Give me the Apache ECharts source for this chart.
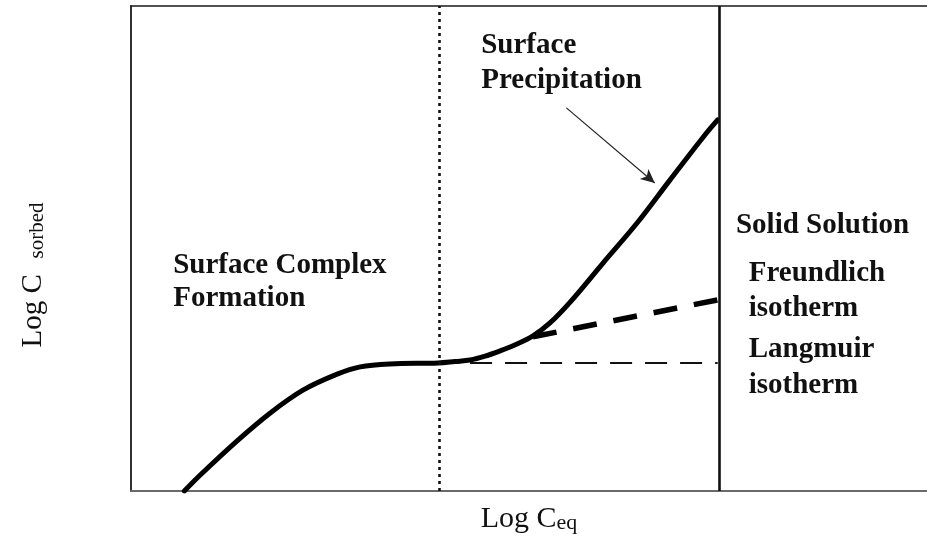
<!DOCTYPE html>
<html>
<head>
<meta charset="utf-8">
<script src="https://cdn.jsdelivr.net/npm/echarts@6/dist/echarts.min.js"></script>
<style>
  html, body { margin: 0; padding: 0; background: #fff; }
  #chart { width: 927px; height: 544px; }
</style>
</head>
<body>
<div id="chart"></div>
<script>
// Sorption isotherm (log–log): surface complexation plateau rising into surface precipitation
const sorptionX = [0.67, 0.87, 1.33, 1.75, 2.16, 2.59, 2.88, 3.25, 3.86, 4.07, 4.26, 4.45, 4.64, 4.82, 5.05, 5.26, 5.52, 5.93, 6.36, 6.77, 7.19, 7.37];
const sorptionY = [0.00, 0.33, 1.03, 1.61, 2.08, 2.41, 2.56, 2.62, 2.64, 2.67, 2.70, 2.78, 2.89, 3.01, 3.20, 3.46, 3.90, 4.70, 5.53, 6.41, 7.30, 7.65];

// Extrapolated isotherms beyond the plateau
const freundlichX = [5.05, 7.37];
const freundlichY = [3.18, 3.94];
const langmuirX = [4.26, 7.37];
const langmuirY = [2.64, 2.64];

// Regime boundaries along Log Ceq
const complexationLimit = 3.87;
const solidSolutionLimit = 7.39;

// Pointer from the "Surface Precipitation" caption to the curve
const pointerFrom = [5.47, 7.90];
const pointerTo = [6.58, 6.35];

const axisMin = 0;
const axisMax = 10;

const zip = (xs, ys) => xs.map((x, i) => [x, ys[i]]);
const SERIF = '"Liberation Serif", "Times New Roman", serif';

const chart = echarts.init(document.getElementById('chart'), null, { renderer: 'canvas' });

const hiddenAxisParts = {
  axisTick: { show: false },
  axisLabel: { show: false },
  splitLine: { show: false }
};

chart.setOption({
  animation: false,
  backgroundColor: '#fff',
  grid: { left: 131, right: 0, top: 6, bottom: 53, containLabel: false, outerBoundsMode: 'none' },
  xAxis: [
    Object.assign({
      type: 'value', min: axisMin, max: axisMax, position: 'bottom',
      axisLine: { show: true, onZero: false, lineStyle: { color: '#6a6a6a', width: 2 } },
      name: '{m|Log C}{s|eq}',
      nameLocation: 'middle',
      nameGap: 11,
      nameTextStyle: {
        rich: {
          m: { fontFamily: SERIF, fontSize: 30, color: '#111', lineHeight: 32, verticalAlign: 'bottom' },
          s: { fontFamily: SERIF, fontSize: 22, color: '#111', lineHeight: 32, verticalAlign: 'bottom' }
        }
      }
    }, hiddenAxisParts),
    Object.assign({
      type: 'value', min: axisMin, max: axisMax, position: 'top',
      axisLine: { show: true, onZero: false, lineStyle: { color: '#1a1a1a', width: 1.6 } }
    }, hiddenAxisParts)
  ],
  yAxis: Object.assign({
    type: 'value', min: axisMin, max: axisMax,
    axisLine: { show: true, onZero: false, lineStyle: { color: '#1a1a1a', width: 1.8 } },
    name: '{m|Log C}{s|   sorbed}',
    nameLocation: 'middle',
    nameRotate: 90,
    nameGap: 83,
    nameTextStyle: {
      padding: [0, 53, 0, 0],
      rich: {
        m: { fontFamily: SERIF, fontSize: 29, color: '#111', lineHeight: 30, verticalAlign: 'bottom' },
        s: { fontFamily: SERIF, fontSize: 21, color: '#111', lineHeight: 30, verticalAlign: 'bottom' }
      }
    }
  }, hiddenAxisParts),
  series: [
    {
      name: 'Langmuir isotherm',
      type: 'line',
      data: zip(langmuirX, langmuirY),
      showSymbol: false,
      silent: true,
      lineStyle: { color: '#111', width: 2, type: [22, 13] },
      z: 2
    },
    {
      name: 'Freundlich isotherm',
      type: 'line',
      data: zip(freundlichX, freundlichY),
      showSymbol: false,
      silent: true,
      lineStyle: { color: '#000', width: 5.5, type: [24, 17] },
      z: 3
    },
    {
      name: 'Sorption',
      type: 'line',
      data: zip(sorptionX, sorptionY),
      smooth: 0.35,
      showSymbol: false,
      silent: true,
      lineStyle: { color: '#000', width: 5, cap: 'round' },
      z: 4,
      markLine: {
        silent: true,
        symbol: 'none',
        label: { show: false },
        animation: false,
        data: [
          { xAxis: complexationLimit, lineStyle: { color: '#111', width: 2.6, type: [3, 4] } },
          { xAxis: solidSolutionLimit, lineStyle: { color: '#111', width: 2.6, type: 'solid' } },
          [
            { coord: pointerFrom, symbol: 'none' },
            { coord: pointerTo, symbol: 'arrow', symbolSize: [10, 14], lineStyle: { color: '#222', width: 1.2, type: 'solid' } }
          ]
        ]
      }
    }
  ]
});

// Region captions, anchored in data space at each line's baseline
const captions = [
  { text: 'Surface', x: 4.40, y: 8.99 },
  { text: 'Precipitation', x: 4.40, y: 8.27 },
  { text: 'Surface Complex', x: 0.53, y: 4.45 },
  { text: 'Formation', x: 0.53, y: 3.77 },
  { text: 'Solid Solution', x: 7.60, y: 5.28 },
  { text: 'Freundlich', x: 7.76, y: 4.29 },
  { text: 'isotherm', x: 7.76, y: 3.57 },
  { text: 'Langmuir', x: 7.76, y: 2.72 },
  { text: 'isotherm', x: 7.76, y: 1.99 }
];

const captionSize = 29;
chart.setOption({
  graphic: captions.map(c => {
    const p = chart.convertToPixel({ gridIndex: 0 }, [c.x, c.y]);
    return {
      type: 'text',
      x: p[0],
      y: p[1] - captionSize * 0.32,
      silent: true,
      style: {
        text: c.text,
        fill: '#111',
        font: 'bold ' + captionSize + 'px ' + SERIF,
        align: 'left',
        verticalAlign: 'middle'
      },
      z: 10
    };
  })
});
</script>
</body>
</html>
